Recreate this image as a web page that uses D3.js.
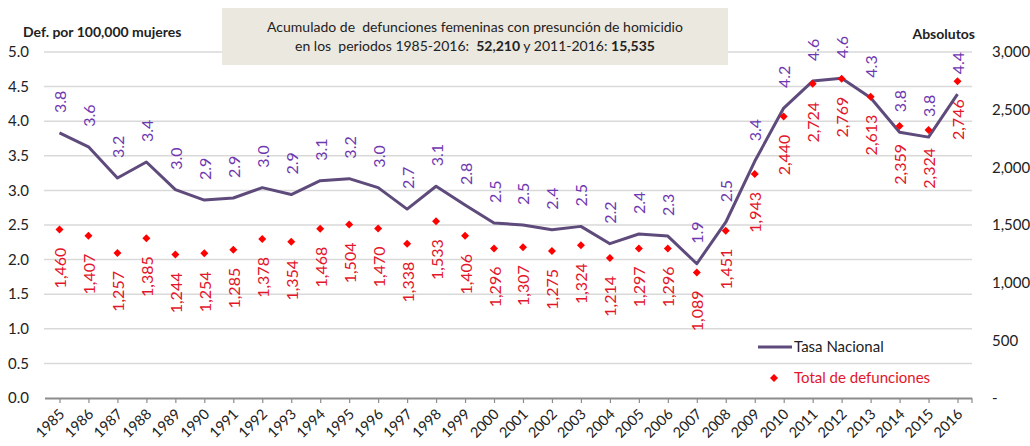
<!DOCTYPE html>
<html>
<head>
<meta charset="utf-8">
<script src="https://cdn.jsdelivr.net/npm/d3@7"></script>
<style>
  body { margin: 0; background: #fff; }
  svg { font-family: Lato, "Open Sans", sans-serif; }
</style>
</head>
<body>
<svg id="chart" width="1030" height="446"></svg>
<script>
// years on the x axis
const years = [1985, 1986, 1987, 1988, 1989, 1990, 1991, 1992, 1993, 1994, 1995, 1996,
    1997, 1998, 1999, 2000, 2001, 2002, 2003, 2004, 2005, 2006, 2007, 2008, 2009, 2010,
    2011, 2012, 2013, 2014, 2015, 2016];

// tasa nacional (def. por 100,000 mujeres)
const tasa = [3.83, 3.63, 3.18, 3.41, 3.01, 2.86, 2.89, 3.04, 2.94, 3.14, 3.17, 3.04,
    2.73, 3.06, 2.79, 2.53, 2.50, 2.43, 2.48, 2.23, 2.37, 2.34, 1.94, 2.54, 3.42, 4.19,
    4.58, 4.62, 4.34, 3.84, 3.77, 4.39];

// total de defunciones (absolutos)
const defunciones = [1460, 1407, 1257, 1385, 1244, 1254, 1285, 1378, 1354, 1468, 1504, 1470,
    1338, 1533, 1406, 1296, 1307, 1275, 1324, 1214, 1297, 1296, 1089, 1451, 1943, 2440,
    2724, 2769, 2613, 2359, 2324, 2746];

const leftTicks = [0, 0.5, 1, 1.5, 2, 2.5, 3, 3.5, 4, 4.5, 5];
const rightTicks = [0, 500, 1000, 1500, 2000, 2500, 3000];

const lineColor = "#5e4b7c";
const rateLabelColor = "#7038b0";
const redColor = "#ff0000";
const redLabelColor = "#e3162a";

const svg = d3.select("#chart");

const x = d3.scalePoint().domain(years).range([45, 972]).padding(0.5);
const yLeft = d3.scaleLinear().domain([0, 5]).range([398, 52]);
const yRight = d3.scaleLinear().domain([0, 3000]).range([398, 52]);

// gridlines
svg.append("g")
    .selectAll("line")
    .data(leftTicks.slice(1))
    .enter()
    .append("line")
    .attr("x1", 44)
    .attr("x2", 972)
    .attr("y1", d => yLeft(d))
    .attr("y2", d => yLeft(d))
    .attr("stroke", "#d9d9d9")
    .attr("stroke-width", 1.5);

// left axis labels
svg.append("g")
    .selectAll("text")
    .data(leftTicks)
    .enter()
    .append("text")
    .attr("x", 29)
    .attr("y", d => yLeft(d))
    .attr("dy", "0.35em")
    .attr("text-anchor", "end")
    .attr("font-size", 15)
    .attr("fill", "#222")
    .text(d => d3.format(".1f")(d));

// right axis labels
svg.append("g")
    .selectAll("text")
    .data(rightTicks)
    .enter()
    .append("text")
    .attr("x", 992)
    .attr("y", d => yRight(d))
    .attr("dy", "0.35em")
    .attr("font-size", 15)
    .attr("fill", "#222")
    .text(d => d === 0 ? "-" : d3.format(",")(d));

// axis titles
svg.append("text")
    .attr("x", 23).attr("y", 37)
    .attr("font-size", 14).attr("font-weight", "bold").attr("fill", "#222")
    .text("Def. por 100,000 mujeres");
svg.append("text")
    .attr("x", 975).attr("y", 39)
    .attr("text-anchor", "end")
    .attr("font-size", 14).attr("font-weight", "bold").attr("fill", "#222")
    .text("Absolutos");

// x axis
const xAxis = d3.axisBottom(x).tickSize(5).tickFormat("");
const xAxisG = svg.append("g")
    .attr("transform", "translate(0,398)")
    .call(xAxis);
xAxisG.select(".domain")
    .attr("d", "M45,0.5H972")
    .attr("stroke", "#8c8c8c")
    .attr("stroke-width", 2);
xAxisG.selectAll(".tick line").attr("stroke", "#8c8c8c").attr("stroke-width", 1.2);
// end tick
xAxisG.append("line").attr("x1", 972).attr("x2", 972).attr("y1", 0).attr("y2", 5)
    .attr("stroke", "#8c8c8c").attr("stroke-width", 1.2);

svg.append("g")
    .selectAll("text")
    .data(years)
    .enter()
    .append("text")
    .attr("transform", d => "translate(" + (x(d) + 6) + ",415) rotate(-45)")
    .attr("text-anchor", "end")
    .attr("font-size", 14.5)
    .attr("fill", "#222")
    .text(d => d);

// tasa nacional line
const lineData = years.map((yr, i) => ({ year: yr, value: tasa[i] }));
const line = d3.line().x(d => x(d.year)).y(d => yLeft(d.value));
svg.append("path")
    .datum(lineData)
    .attr("d", line)
    .attr("fill", "none")
    .attr("stroke", lineColor)
    .attr("stroke-width", 3)
    .attr("stroke-linejoin", "round");

// defunciones markers (square turned 45 degrees)
const pointData = years.map((yr, i) => ({ year: yr, value: defunciones[i] }));
const diamond = d3.symbol().type(d3.symbolSquare).size(32);
svg.append("g")
    .selectAll("path")
    .data(pointData)
    .enter()
    .append("path")
    .attr("d", diamond)
    .attr("transform", d => "translate(" + x(d.year) + "," + yRight(d.value) + ") rotate(45)")
    .attr("fill", redColor);

// rate labels (above line)
svg.append("g")
    .selectAll("text")
    .data(lineData)
    .enter()
    .append("text")
    .attr("transform", d => "translate(" + x(d.year) + "," + (yLeft(d.value) - 20) + ") rotate(-90)")
    .attr("dominant-baseline", "central")
    .attr("font-size", 16)
    .attr("fill", rateLabelColor)
    .text(d => d.value.toFixed(1));

// defunciones labels (below marker)
svg.append("g")
    .selectAll("text")
    .data(pointData)
    .enter()
    .append("text")
    .attr("transform", d => "translate(" + x(d.year) + "," + (yRight(d.value) + 18) + ") rotate(-90)")
    .attr("text-anchor", "end")
    .attr("dominant-baseline", "central")
    .attr("font-size", 16)
    .attr("fill", redLabelColor)
    .text(d => d3.format(",")(d.value));

// title box
svg.append("rect")
    .attr("x", 222).attr("y", 8)
    .attr("width", 506).attr("height", 57)
    .attr("fill", "#ebe8df");
svg.append("text")
    .attr("x", 475).attr("y", 32)
    .attr("text-anchor", "middle")
    .attr("font-size", 14).attr("fill", "#222")
    .attr("xml:space", "preserve")
    .text("Acumulado de  defunciones femeninas con presunción de homicidio");
const t2 = svg.append("text")
    .attr("x", 475).attr("y", 51)
    .attr("text-anchor", "middle")
    .attr("font-size", 14).attr("fill", "#222")
    .attr("xml:space", "preserve");
t2.append("tspan").text("en los  periodos 1985-2016:  ");
t2.append("tspan").attr("font-weight", "bold").text("52,210");
t2.append("tspan").text(" y 2011-2016: ");
t2.append("tspan").attr("font-weight", "bold").text("15,535");

// legend
const legend = svg.append("g");
legend.append("line")
    .attr("x1", 758).attr("x2", 792).attr("y1", 347).attr("y2", 347)
    .attr("stroke", lineColor).attr("stroke-width", 3);
legend.append("text")
    .attr("x", 794).attr("y", 347).attr("dy", "0.35em")
    .attr("font-size", 15).attr("fill", "#222")
    .text("Tasa Nacional");
legend.append("path")
    .attr("d", diamond)
    .attr("transform", "translate(774,378) rotate(45)")
    .attr("fill", redColor);
legend.append("text")
    .attr("x", 794).attr("y", 378).attr("dy", "0.35em")
    .attr("font-size", 15).attr("fill", redLabelColor)
    .text("Total de defunciones");
</script>
</body>
</html>
